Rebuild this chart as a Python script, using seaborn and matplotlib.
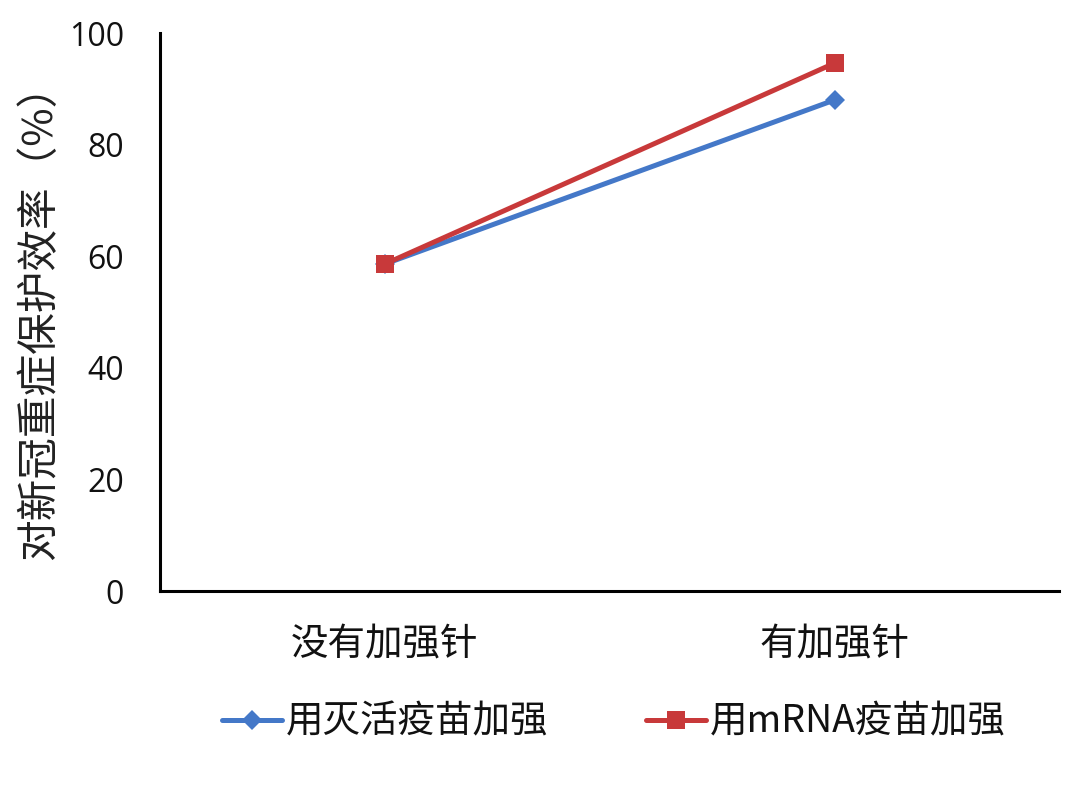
import matplotlib
matplotlib.use("Agg")
import matplotlib.pyplot as plt
import seaborn as sns
import pandas as pd

categories = ["没有加强针", "有加强针"]
series_names = ["用灭活疫苗加强", "用mRNA疫苗加强"]
inactivated = [58.6, 88.0]
mrna = [58.6, 94.6]
y_ticks = [0, 20, 40, 60, 80, 100]
y_label = "对新冠重症保护效率（%）"

df = pd.DataFrame({
    "cat": categories * 2,
    "x": [0, 1] * 2,
    "val": inactivated + mrna,
    "series": [series_names[0]] * 2 + [series_names[1]] * 2,
})

sns.set_theme(style="white")
plt.rcParams["font.family"] = ["Noto Sans CJK SC", "DejaVu Sans"]

fig = plt.figure(figsize=(10.8, 7.86), dpi=100)
ax = fig.add_axes([0.148, 0.248, 0.833, 0.71])

palette = {series_names[0]: "#4478C8", series_names[1]: "#C8393A"}
markers = {series_names[0]: "D", series_names[1]: "s"}
sns.lineplot(data=df, x="x", y="val", hue="series", style="series",
             palette=palette, markers=markers, dashes=False,
             linewidth=3.6, markersize=13, markeredgewidth=0, ax=ax)

for line in ax.get_lines():
    if line.get_marker() == "D":
        line.set_markersize(10)

ax.set_xlim(-0.5, 1.5)
ax.set_ylim(0, 100)
ax.set_yticks(y_ticks)
ax.set_xticks([0, 1])
ax.set_xticklabels(categories)
ax.tick_params(axis="y", length=0, pad=26, labelsize=23, labelcolor="#111111")
ax.tick_params(axis="x", length=0, pad=25, labelsize=27, labelcolor="#111111")
for lab in ax.get_yticklabels():
    lab.set_fontfamily(["Open Sans", "DejaVu Sans"])
ax.set_xlabel("")
ax.set_ylabel(y_label, fontsize=30, labelpad=6, color="#222222")

for s in ["top", "right"]:
    ax.spines[s].set_visible(False)
for s in ["left", "bottom"]:
    ax.spines[s].set_color("black")
    ax.spines[s].set_linewidth(2.2)

handles, labels = ax.get_legend_handles_labels()
ax.legend(handles, labels, loc="center", bbox_to_anchor=(0.505, -0.235),
          ncol=2, frameon=False, fontsize=27, handlelength=1.6,
          handletextpad=0.1, columnspacing=2.6, labelcolor="#111111")

fig.savefig("out.png", dpi=100, facecolor="white")
